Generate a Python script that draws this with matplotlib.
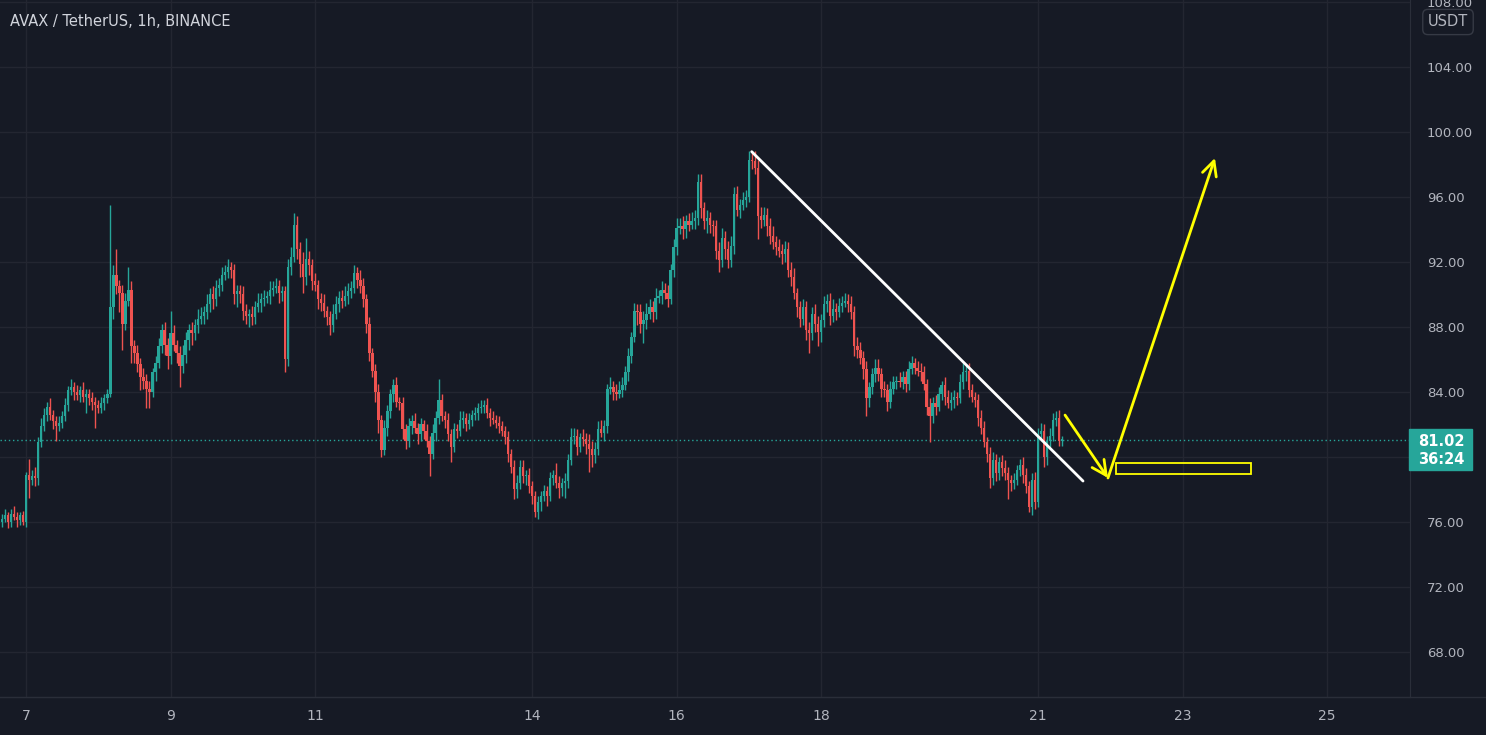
import matplotlib
matplotlib.use("Agg")
import matplotlib.pyplot as plt
from matplotlib.patches import Rectangle
from matplotlib.lines import Line2D
import numpy as np

# ---- data (AVAX/USDT 1h closes, one list per day) ----
T0 = 6 + 16 / 24          # first candle time (day of month)
FIRST_OPEN = 76.0
LAST_PRICE = 81.02

close_d06 = [76.2, 76.4, 76.0, 76.5, 76.3, 76.1, 76.4, 76.0, 78.9]
close_d07 = [78.6, 78.8, 78.7, 80.9, 81.9, 82.6, 83.1, 82.6, 82.2, 81.9, 82.1, 82.5, 83.2, 84.1, 84.3, 84.0, 83.8, 84.1, 83.7, 83.9, 83.6, 83.4, 83.2]
close_d08 = [83.0, 83.3, 83.6, 83.9, 89.2, 91.2, 90.5, 90.1, 88.2, 89.6, 90.3, 86.8, 86.4, 85.7, 84.9, 84.7, 84.2, 84.0, 85.2, 85.8, 86.8, 87.8, 86.9, 86.2]
close_d09 = [87.6, 86.9, 86.4, 85.6, 86.3, 87.2, 87.8, 87.6, 88.1, 88.5, 88.7, 88.9, 89.4, 90.0, 89.7, 90.4, 90.6, 91.2, 91.4, 91.7, 91.5, 90.0, 90.2]
close_d10 = [90.0, 89.0, 88.7, 88.8, 88.6, 89.2, 89.5, 89.7, 89.8, 89.9, 90.3, 90.4, 90.5, 90.1, 90.2, 86.0, 91.7, 92.3, 94.3, 92.8, 91.9, 91.1, 92.2, 91.8]
close_d11 = [90.8, 90.6, 89.7, 89.5, 89.0, 88.6, 88.1, 88.8, 89.4, 89.8, 89.6, 89.9, 90.2, 90.4, 91.3, 90.9, 90.5, 89.7, 88.2, 86.4, 85.3, 84.0, 82.3]
close_d12 = [80.4, 81.8, 82.8, 83.9, 84.4, 83.4, 83.3, 81.7, 81.0, 81.9, 82.2, 81.8, 81.4, 82.0, 81.6, 81.0, 80.2, 81.5, 82.4, 83.5, 82.5, 82.3, 81.4, 80.6]
close_d13 = [81.7, 81.6, 82.3, 82.4, 82.0, 82.3, 82.6, 82.7, 83.0, 83.1, 83.2, 82.7, 82.4, 82.3, 82.1, 81.9, 81.6, 81.2, 80.2, 79.4, 78.0, 78.4, 79.4]
close_d14 = [78.8, 78.9, 78.2, 77.6, 76.6, 77.2, 77.6, 77.9, 77.6, 78.7, 78.9, 78.4, 78.1, 78.4, 78.5, 79.8, 81.2, 81.3, 80.6, 81.2, 81.1, 80.8, 80.5, 80.1]
close_d15 = [80.5, 81.7, 81.5, 81.9, 84.2, 84.3, 84.0, 83.9, 84.1, 84.4, 85.2, 86.2, 87.4, 89.0, 88.9, 88.2, 88.4, 88.8, 89.2, 88.9, 89.8, 89.9, 90.3]
close_d16 = [90.1, 89.7, 91.5, 92.9, 94.1, 94.2, 94.0, 94.5, 94.3, 94.5, 94.7, 96.9, 95.3, 94.5, 94.7, 94.3, 94.2, 92.7, 92.1, 93.5, 92.8, 92.1, 93.0, 96.2]
close_d17 = [95.2, 95.5, 95.8, 96.0, 98.3, 98.2, 97.8, 94.8, 94.6, 94.9, 94.2, 93.6, 93.2, 92.9, 92.7, 92.5, 92.8, 91.5, 91.1, 90.1, 89.2, 88.5, 89.2]
close_d18 = [87.8, 87.6, 88.8, 88.2, 87.7, 88.4, 89.4, 89.6, 88.7, 89.1, 88.9, 89.3, 89.5, 89.6, 89.4, 88.9, 86.8, 86.6, 86.1, 85.4, 83.6, 84.3, 85.1, 85.5]
close_d19 = [85.1, 84.2, 84.1, 83.4, 84.2, 84.6, 84.7, 84.6, 84.9, 84.5, 85.4, 85.8, 85.5, 85.3, 85.2, 84.5, 83.1, 82.5, 83.3, 83.1, 83.9, 84.4, 83.7]
close_d20 = [83.3, 83.5, 83.7, 83.6, 84.6, 85.2, 85.3, 84.1, 83.7, 83.5, 82.4, 81.8, 80.9, 80.2, 78.7, 79.8, 79.0, 79.7, 79.3, 79.0, 78.6, 78.4, 78.6, 79.2]
close_d21 = [79.5, 78.9, 78.2, 76.9, 78.6, 77.2, 81.4, 81.6, 80.0, 81.0, 81.3, 82.3, 82.4, 81.0, 81.02]

# upper wick above the body top
up_d06 = [0.3, 0.4, 0.2, 0.3, 0.5, 0.3, 0.2, 0.3, 0.2]
up_d07 = [1.0, 0.4, 0.6, 0.3, 0.5, 0.4, 0.3, 0.5, 0.3, 0.3, 0.4, 0.3, 0.4, 0.3, 0.5, 0.3, 0.4, 0.3, 0.5, 0.3, 0.3, 0.4, 0.3]
up_d08 = [0.3, 0.4, 0.3, 0.3, 6.3, 0.6, 1.6, 0.4, 0.5, 0.5, 1.4, 0.5, 0.4, 0.5, 0.4, 0.6, 0.4, 0.5, 0.3, 0.4, 0.5, 0.4, 0.5, 0.4]
up_d09 = [1.4, 0.5, 0.3, 0.4, 0.6, 0.5, 0.4, 0.5, 0.4, 0.6, 0.5, 0.4, 0.6, 0.4, 0.5, 0.5, 0.4, 0.5, 0.4, 0.5, 0.3, 0.4, 0.4]
up_d10 = [0.4, 0.5, 0.4, 0.3, 0.5, 0.4, 0.6, 0.4, 0.5, 0.3, 0.5, 0.4, 0.5, 0.4, 0.3, 0.3, 0.5, 0.6, 0.7, 0.5, 0.4, 0.7, 1.3, 0.5]
up_d11 = [0.4, 0.5, 0.3, 0.4, 0.5, 0.3, 0.4, 0.6, 0.5, 0.4, 0.5, 0.6, 0.5, 0.4, 0.5, 0.4, 0.6, 0.5, 0.3, 0.4, 0.3, 0.4, 0.5]
up_d12 = [0.3, 0.5, 0.4, 0.3, 0.4, 0.5, 0.3, 0.4, 0.3, 0.5, 0.4, 0.5, 0.3, 0.4, 0.3, 0.4, 0.3, 0.5, 0.4, 1.3, 0.4, 0.3, 0.4, 0.3]
up_d13 = [0.4, 0.3, 0.5, 0.4, 0.3, 0.4, 0.3, 0.4, 0.3, 0.4, 0.3, 0.4, 0.3, 0.4, 0.3, 0.4, 0.3, 0.3, 0.4, 0.3, 0.4, 0.5, 0.4]
up_d14 = [0.4, 0.3, 0.4, 0.3, 0.3, 0.4, 0.3, 0.4, 0.3, 0.4, 0.3, 0.7, 0.4, 0.3, 0.5, 0.4, 0.6, 0.5, 0.4, 0.3, 0.5, 0.4, 0.6, 0.5]
up_d15 = [0.4, 0.5, 0.6, 0.4, 0.3, 0.6, 0.4, 0.5, 0.6, 0.5, 0.4, 0.5, 0.3, 0.5, 0.4, 0.5, 0.6, 0.7, 0.5, 0.4, 0.6, 0.4, 0.5]
up_d16 = [0.4, 0.5, 0.4, 0.5, 0.6, 0.5, 0.6, 0.4, 0.5, 0.6, 0.5, 0.5, 0.5, 0.4, 0.5, 0.4, 0.3, 0.4, 0.5, 0.6, 0.4, 0.5, 0.6, 0.4]
up_d17 = [0.5, 0.4, 0.5, 0.4, 0.5, 0.4, 0.6, 0.5, 0.6, 0.5, 0.4, 0.5, 0.6, 0.4, 0.5, 0.4, 0.5, 0.4, 0.5, 0.5, 0.3, 0.4, 0.5]
up_d18 = [0.4, 0.5, 0.4, 0.6, 0.5, 0.4, 0.5, 0.4, 0.5, 0.6, 0.4, 0.5, 0.4, 0.5, 0.4, 0.5, 0.4, 0.6, 0.5, 0.4, 0.5, 0.3, 0.4, 0.5]
up_d19 = [0.5, 0.4, 0.5, 0.4, 0.5, 0.4, 0.3, 0.5, 0.4, 0.4, 0.5, 0.4, 0.3, 0.4, 0.5, 0.4, 0.3, 0.5, 0.4, 0.5, 0.4, 0.3, 0.5]
up_d20 = [0.4, 0.5, 0.4, 0.3, 0.5, 0.6, 0.4, 0.5, 0.4, 0.3, 0.4, 0.5, 0.4, 0.3, 0.4, 0.5, 0.4, 0.3, 0.4, 0.5, 0.4, 0.3, 0.4, 0.3]
up_d21 = [0.4, 0.5, 0.4, 0.3, 0.4, 0.5, 0.4, 0.5, 0.4, 0.3, 0.5, 0.4, 0.4, 0.5, 0.3]

# lower wick below the body bottom
dn_d06 = [0.3, 0.2, 0.4, 0.3, 0.2, 0.4, 0.3, 0.2, 0.3]
dn_d07 = [1.1, 0.3, 0.5, 0.4, 0.3, 0.3, 0.4, 0.3, 0.5, 0.9, 0.3, 0.3, 0.3, 0.4, 0.3, 0.5, 0.3, 0.4, 0.3, 1.0, 0.4, 0.5, 1.4]
dn_d08 = [0.3, 0.3, 0.4, 0.3, 0.2, 0.7, 0.5, 1.2, 1.6, 0.4, 0.3, 1.0, 0.6, 0.5, 0.8, 0.5, 1.2, 1.0, 0.3, 0.5, 0.3, 0.4, 0.6, 0.8]
dn_d09 = [0.5, 0.4, 0.6, 1.3, 0.4, 0.5, 0.6, 0.7, 0.4, 0.5, 0.3, 0.5, 0.4, 0.5, 0.6, 0.4, 0.5, 0.4, 0.3, 0.4, 0.5, 0.6, 0.8]
dn_d10 = [0.5, 0.6, 0.5, 0.7, 0.5, 0.4, 0.3, 0.6, 0.4, 0.3, 0.5, 0.4, 0.3, 0.6, 0.5, 0.8, 0.4, 0.5, 0.3, 0.6, 0.8, 1.0, 0.5, 0.6]
dn_d11 = [0.5, 0.4, 0.6, 0.5, 0.4, 0.5, 0.6, 0.4, 0.3, 0.5, 0.4, 0.3, 0.5, 0.4, 0.3, 0.5, 0.4, 0.5, 0.6, 0.5, 0.4, 0.6, 0.8]
dn_d12 = [0.4, 0.3, 0.5, 0.4, 0.5, 0.3, 0.4, 0.6, 0.5, 0.4, 0.5, 0.3, 0.6, 0.4, 0.5, 0.4, 1.4, 0.3, 0.5, 0.4, 0.3, 0.5, 0.4, 0.9]
dn_d13 = [0.3, 0.4, 0.3, 0.5, 0.4, 0.3, 0.4, 0.3, 0.4, 0.3, 0.4, 0.3, 0.5, 0.3, 0.3, 0.4, 0.3, 0.4, 0.5, 0.4, 0.6, 0.5, 0.4]
dn_d14 = [0.4, 0.5, 0.4, 0.5, 0.3, 0.4, 0.5, 0.3, 0.6, 0.3, 0.4, 0.3, 0.6, 0.5, 0.9, 0.4, 0.3, 0.4, 0.5, 0.3, 0.4, 0.6, 1.4, 0.7]
dn_d15 = [0.5, 0.4, 0.3, 0.5, 0.4, 0.3, 0.5, 0.4, 0.3, 0.4, 0.3, 0.5, 0.4, 0.3, 0.8, 0.6, 1.2, 0.5, 0.3, 0.6, 0.4, 0.3, 0.5]
dn_d16 = [0.4, 0.5, 0.3, 0.4, 0.5, 0.4, 0.6, 0.5, 0.4, 0.3, 0.5, 0.4, 0.6, 0.5, 0.7, 0.5, 0.6, 0.5, 0.7, 0.4, 0.6, 0.5, 0.4, 0.5]
dn_d17 = [0.4, 0.5, 0.3, 0.4, 0.3, 0.5, 0.4, 1.4, 0.5, 0.4, 0.6, 0.5, 0.4, 0.5, 0.4, 0.6, 0.5, 0.4, 0.6, 0.4, 0.6, 0.5, 0.4]
dn_d18 = [0.6, 1.2, 0.4, 0.5, 0.9, 0.6, 0.4, 0.5, 0.6, 0.4, 0.5, 0.3, 0.4, 0.3, 0.5, 0.4, 0.6, 0.5, 0.4, 0.6, 1.1, 0.5, 0.4, 0.5]
dn_d19 = [0.4, 0.5, 0.4, 0.6, 0.4, 0.3, 0.4, 0.3, 0.4, 0.5, 0.4, 0.3, 0.4, 0.3, 0.5, 0.4, 0.5, 1.6, 0.4, 0.5, 0.3, 0.4, 0.5]
dn_d20 = [0.3, 0.4, 0.5, 0.4, 0.3, 0.4, 0.5, 0.4, 0.3, 0.4, 0.5, 0.4, 0.3, 0.5, 0.6, 0.4, 0.5, 0.4, 0.5, 0.4, 1.2, 0.5, 0.4, 0.3]
dn_d21 = [0.4, 0.5, 0.4, 0.3, 0.5, 0.4, 0.3, 0.4, 0.6, 0.5, 0.4, 0.3, 0.4, 0.3, 0.3]

day_ticks = [7, 9, 11, 14, 16, 18, 21, 23, 25]
price_ticks = [68, 72, 76, 80, 84, 88, 92, 96, 100, 104, 108]
hidden_price_ticks = [80]   # covered by the last-price label

# drawings on the chart: (day, price)
trend_line = [(17.039, 98.79), (21.622, 78.52)]
arrow_down = [(21.373, 82.58), (21.967, 78.71)]
arrow_up = [(21.967, 78.71), (23.447, 98.40)]
target_box = [(22.078, 78.95), (23.946, 79.63)]

# ---- style ----
BG = "#161a25"
GRID = "#232631"
SEP = "#2a2e39"
TEXT = "#b2b5be"
UP = "#26a69a"
DOWN = "#ef5350"
YELLOW = "#ffff00"

plt.rcParams["font.family"] = ["DejaVu Sans"]

closes = (close_d06 + close_d07 + close_d08 + close_d09 + close_d10 + close_d11 + close_d12 + close_d13
          + close_d14 + close_d15 + close_d16 + close_d17 + close_d18 + close_d19 + close_d20 + close_d21)
ups = (up_d06 + up_d07 + up_d08 + up_d09 + up_d10 + up_d11 + up_d12 + up_d13
       + up_d14 + up_d15 + up_d16 + up_d17 + up_d18 + up_d19 + up_d20 + up_d21)
dns = (dn_d06 + dn_d07 + dn_d08 + dn_d09 + dn_d10 + dn_d11 + dn_d12 + dn_d13
       + dn_d14 + dn_d15 + dn_d16 + dn_d17 + dn_d18 + dn_d19 + dn_d20 + dn_d21)

c = np.array(closes)
o = np.array([FIRST_OPEN] + closes[:-1])
t = T0 + np.arange(len(c)) / 24
hi = np.maximum(o, c) + np.array(ups)
lo = np.minimum(o, c) - np.array(dns)
cols = np.where(c >= o, UP, DOWN)

W, H = 1486, 735
fig = plt.figure(figsize=(W / 100, H / 100), dpi=100)
fig.patch.set_facecolor(BG)
ax = fig.add_axes([0, 38 / H, 1410 / W, 697 / H])
ax.set_facecolor(BG)

ax.vlines(t, lo, hi, colors=cols, lw=1, zorder=3)
ax.bar(t, np.maximum(np.abs(c - o), 0.08), bottom=np.minimum(o, c), width=0.78 / 24,
       color=cols, lw=0, zorder=4)

ax.axhline(LAST_PRICE, color=UP, ls=(0, (1, 2)), lw=1, zorder=2)

# drawings
(x1, y1), (x2, y2) = trend_line
ax.plot([x1, x2], [y1, y2], color="white", lw=2, solid_capstyle="round", zorder=6)
for (xa, ya), (xb, yb) in [arrow_down, arrow_up]:
    ax.annotate("", xy=(xb, yb), xytext=(xa, ya),
                arrowprops=dict(arrowstyle="->", color=YELLOW, lw=2, mutation_scale=26,
                                shrinkA=0, shrinkB=0), zorder=6)
(bx1, by1), (bx2, by2) = target_box
ax.add_patch(Rectangle((bx1, by1), bx2 - bx1, by2 - by1, fill=False, ec=YELLOW, lw=1.3, zorder=6))

ax.set_xlim(7 - 26 / 72.29, 7 + (1410 - 26) / 72.29)
ax.set_ylim(100 - (697 - 132) / 16.25, 100 + 132 / 16.25)

ax.set_xticks(day_ticks)
ax.set_xticklabels([str(d) for d in day_ticks])
ax.set_yticks(price_ticks)
ax.set_yticklabels(["" if p in hidden_price_ticks else f"{p:.2f}" for p in price_ticks])
ax.yaxis.tick_right()
ax.tick_params(axis="y", length=0, pad=12, labelcolor=TEXT, labelsize=9.5)
ax.tick_params(axis="x", length=0, pad=9, labelcolor=TEXT, labelsize=10)
ax.grid(color=GRID, lw=1, zorder=0)
ax.set_axisbelow(True)
for s in ["top", "left"]:
    ax.spines[s].set_visible(False)
for s in ["right", "bottom"]:
    ax.spines[s].set_color(SEP)

fig.add_artist(Line2D([0, 1], [38 / H, 38 / H], transform=fig.transFigure, color=SEP, lw=1))

# last price label
fig.add_artist(Rectangle((1409 / W, 1 - 470 / H), 63 / W, 41 / H, transform=fig.transFigure,
                         color=UP, zorder=5))
fig.text(1441 / W, 1 - 441 / H, f"{LAST_PRICE:.2f}", ha="center", va="center", color="white",
         fontsize=10.5, weight="bold", zorder=6)
fig.text(1441 / W, 1 - 460 / H, "36:24", ha="center", va="center", color="white",
         fontsize=10.5, weight="bold", zorder=6)

fig.text(1448 / W, 1 - 22 / H, "USDT", ha="center", va="center", color=TEXT, fontsize=10.5,
         bbox=dict(boxstyle="round,pad=0.35", fc=BG, ec="#363a45", lw=1))

fig.text(10 / W, 1 - 22 / H, "AVAX / TetherUS, 1h, BINANCE", ha="left", va="center",
         color="#d1d4dc", fontsize=10.5)

fig.savefig("out.png", dpi=100, facecolor=BG)
